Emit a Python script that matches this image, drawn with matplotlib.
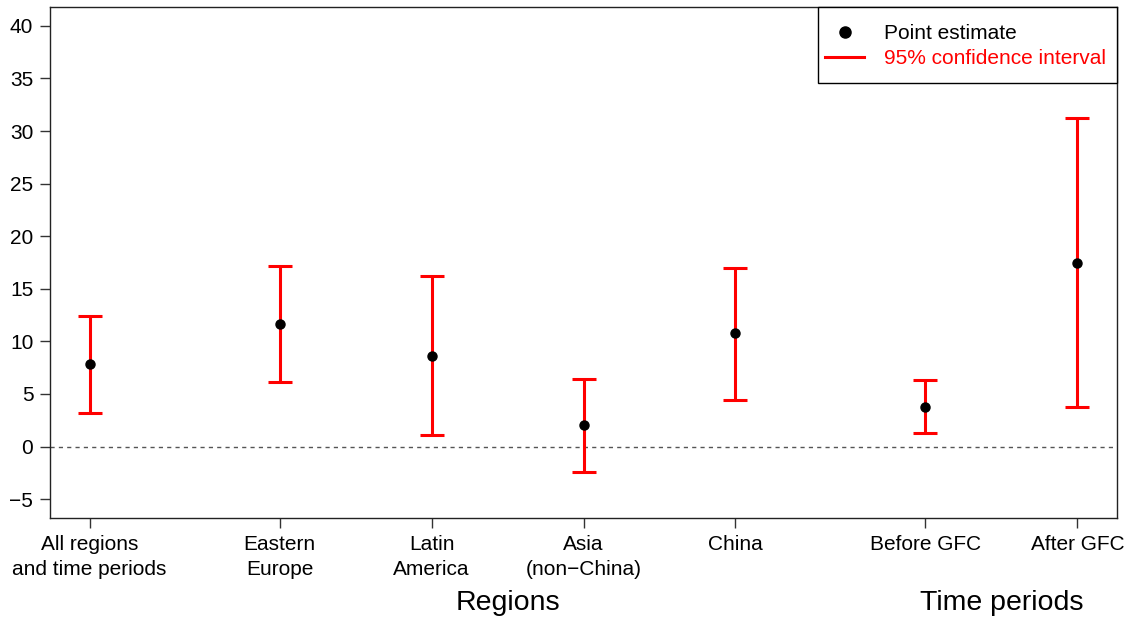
import matplotlib
matplotlib.use("Agg")
import matplotlib.pyplot as plt
from matplotlib.lines import Line2D
from matplotlib.patches import Rectangle

plt.rcParams['font.family'] = ['Liberation Sans', 'DejaVu Sans']

categories = ["All regions\nand time periods", "Eastern\nEurope", "Latin\nAmerica",
              "Asia\n(non\u2212China)", "China", "Before GFC", "After GFC"]
positions = [0, 1.25, 2.25, 3.25, 4.25, 5.5, 6.5]
estimates = [7.8, 11.65, 8.65, 2.0, 10.75, 3.8, 17.5]
lower = [3.2, 6.15, 1.05, -2.45, 4.45, 1.25, 3.8]
upper = [12.45, 17.15, 16.25, 6.4, 16.95, 6.3, 31.25]
yticks = [-5, 0, 5, 10, 15, 20, 25, 30, 35, 40]
ytick_labels = ["\u22125", "0", "5", "10", "15", "20", "25", "30", "35", "40"]

fig = plt.figure(figsize=(11.34, 6.21), dpi=100)
ax = fig.add_axes([50/1134, 1 - 518/621, (1117 - 50)/1134, (518 - 7)/621])

ax.axhline(0, color="#555555", lw=1, ls=(0, (3, 3)), zorder=1)

yerr = [[e - l for e, l in zip(estimates, lower)], [u - e for u, e in zip(upper, estimates)]]
ax.errorbar(positions, estimates, yerr=yerr, fmt="none", ecolor="red", elinewidth=2.2,
            capsize=8.7, capthick=2.2, zorder=2)
ax.plot(positions, estimates, "o", color="black", ms=6.5, zorder=3)

ax.set_xlim(-0.26, 6.76)
ax.set_ylim(-6.8, 41.8)
ax.set_yticks(yticks)
ax.set_yticklabels(ytick_labels)
ax.set_xticks(positions)
ax.set_xticklabels(categories, linespacing=1.45)
ax.tick_params(axis="both", labelsize=15, length=7, width=1, color="#333333", pad=5)
for s in ax.spines.values():
    s.set_color("#222222")
    s.set_linewidth(1)

ax.text((positions[1] + positions[4]) / 2, -0.166, "Regions", transform=ax.get_xaxis_transform(),
        ha="center", va="center", fontsize=20.5)
ax.text((positions[5] + positions[6]) / 2, -0.166, "Time periods", transform=ax.get_xaxis_transform(),
        ha="center", va="center", fontsize=20.5)

# legend box
box_x0 = (818 - 50) / 1067
box_y0 = (518 - 83) / 511
ax.add_patch(Rectangle((box_x0, box_y0), 1 - box_x0, 1 - box_y0, transform=ax.transAxes,
                       facecolor="white", edgecolor="black", lw=1, zorder=5, clip_on=False))

handles = [Line2D([], [], ls="none", marker="o", color="black", ms=8),
           Line2D([], [], color="red", lw=2.2)]
leg = ax.legend(handles, ["Point estimate", "95% confidence interval"], loc="center",
                bbox_to_anchor=((965.5 - 50) / 1067, (518 - 46) / 511),
                borderaxespad=0, frameon=False, fontsize=15, handlelength=1.9,
                handletextpad=0.96, borderpad=0, labelspacing=0.3)
leg.set_zorder(6)
leg.get_texts()[1].set_color("red")

fig.savefig("out.png", dpi=100)
